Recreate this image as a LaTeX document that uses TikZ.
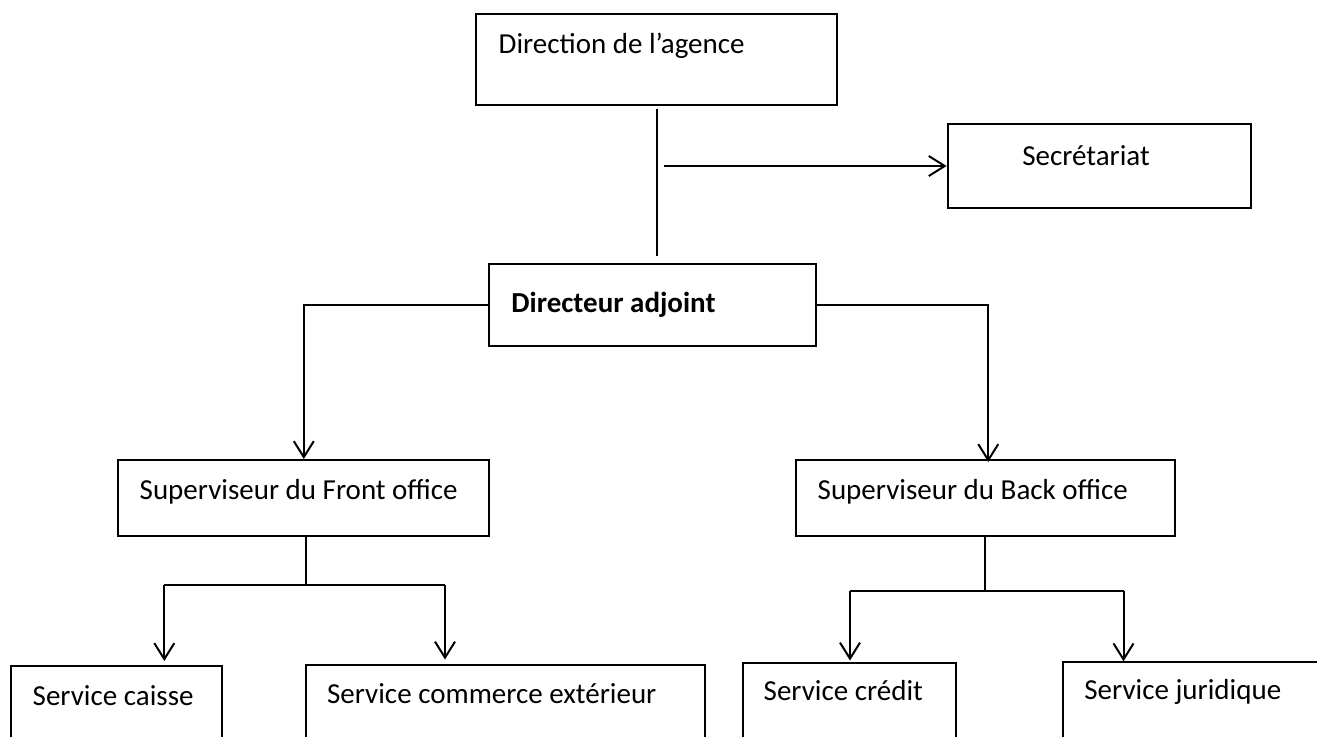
\documentclass[tikz,border=0pt]{standalone}
\usepackage{fontspec}
\setmainfont{Carlito}
\usetikzlibrary{arrows.meta}

\tikzset{
  orgbox/.style={draw=black, line width=1pt, rectangle, inner sep=0pt, fill=none},
  lbl/.style={anchor=base west, inner sep=0pt, font=\fontsize{14.5}{17}\selectfont},
  link/.style={draw=black, line width=1pt},
  arr/.style={link, -{Straight Barb[length=8pt, width=10pt, line width=1pt]}}
}

\begin{document}
\begin{tikzpicture}[x=0.5pt, y=-0.5pt]
  \fill[white] (0,0) rectangle (1317,736);
  \useasboundingbox (0,0) rectangle (1317,736);
  \clip (0,0) rectangle (1317,736);

  % boxes
  \node[orgbox, minimum width=180.5pt, minimum height=45.25pt] (dir) at (656.5,59.25) {};
  \node[lbl] (tdir) at (498.3,53) {Direction de l’agence};

  \node[orgbox, minimum width=151.85pt, minimum height=41.7pt] (sec) at (1099.5,166) {};
  \node[lbl] (tsec) at (1022,165) {Secrétariat};

  \node[orgbox, minimum width=163.35pt, minimum height=40.85pt] (adj) at (652.65,305.15) {};
  \node[lbl, font=\fontsize{14.5}{17}\selectfont\bfseries] (tadj) at (511,312.3) {Directeur adjoint};

  \node[orgbox, minimum width=185.5pt, minimum height=37.85pt] (front) at (303.8,497.85) {};
  \node[lbl] (tfront) at (139.3,499.3) {Superviseur du Front office};

  \node[orgbox, minimum width=189.25pt, minimum height=37.75pt] (back) at (985.25,497.75) {};
  \node[lbl] (tback) at (817.3,499.3) {Superviseur du Back office};

  \node[orgbox, minimum width=105.65pt, minimum height=52pt] (caisse) at (116.65,718) {};
  \node[lbl] (tcaisse) at (32.3,705) {Service caisse};

  \node[orgbox, minimum width=199.65pt, minimum height=52.75pt] (comm) at (505.35,717.25) {};
  \node[lbl] (tcomm) at (326.7,703.3) {Service commerce extérieur};

  \node[orgbox, minimum width=106.2pt, minimum height=53.75pt] (cred) at (849.5,716.25) {};
  \node[lbl] (tcred) at (763.3,700) {Service crédit};

  \node[orgbox, minimum width=138.5pt, minimum height=53.85pt] (jur) at (1201.5,716.15) {};
  \node[lbl] (tjur) at (1084,699.5) {Service juridique};

  % direction -> directeur adjoint, with the branch to the secretariat
  \draw[link] ([yshift=-1.5pt]dir.south) -- ([yshift=3.5pt]dir.south |- adj.north);
  \coordinate (s0) at (664,166);
  \draw[arr] (s0) -- (sec.west);

  % directeur adjoint -> supervisors
  \draw[arr] (adj.west) -| (front.north);
  \draw[arr] (adj.east) -| ([xshift=1.5pt, yshift=-1.5pt]back.north);

  % front office branches
  \coordinate (fj) at (306,585);
  \coordinate (fl) at (164.3,585);
  \coordinate (fr) at (445,585);
  \draw[link] (fj |- front.south) -- (fj);
  \draw[link] (fl) -- (fr);
  \draw[arr] (fl) -- ([yshift=2pt]fl |- caisse.north);
  \draw[arr] (fr) -- ([yshift=2pt]fr |- comm.north);

  % back office branches
  \coordinate (bj) at (985,590.7);
  \coordinate (bl) at (850,590.7);
  \coordinate (br) at (1123.5,590.7);
  \draw[link] (bj |- back.south) -- (bj);
  \draw[link] (bl) -- (br);
  \draw[arr] (bl) -- ([yshift=0.5pt]bl |- cred.north);
  \draw[arr] (br) -- (br |- jur.north);
\end{tikzpicture}
\end{document}
